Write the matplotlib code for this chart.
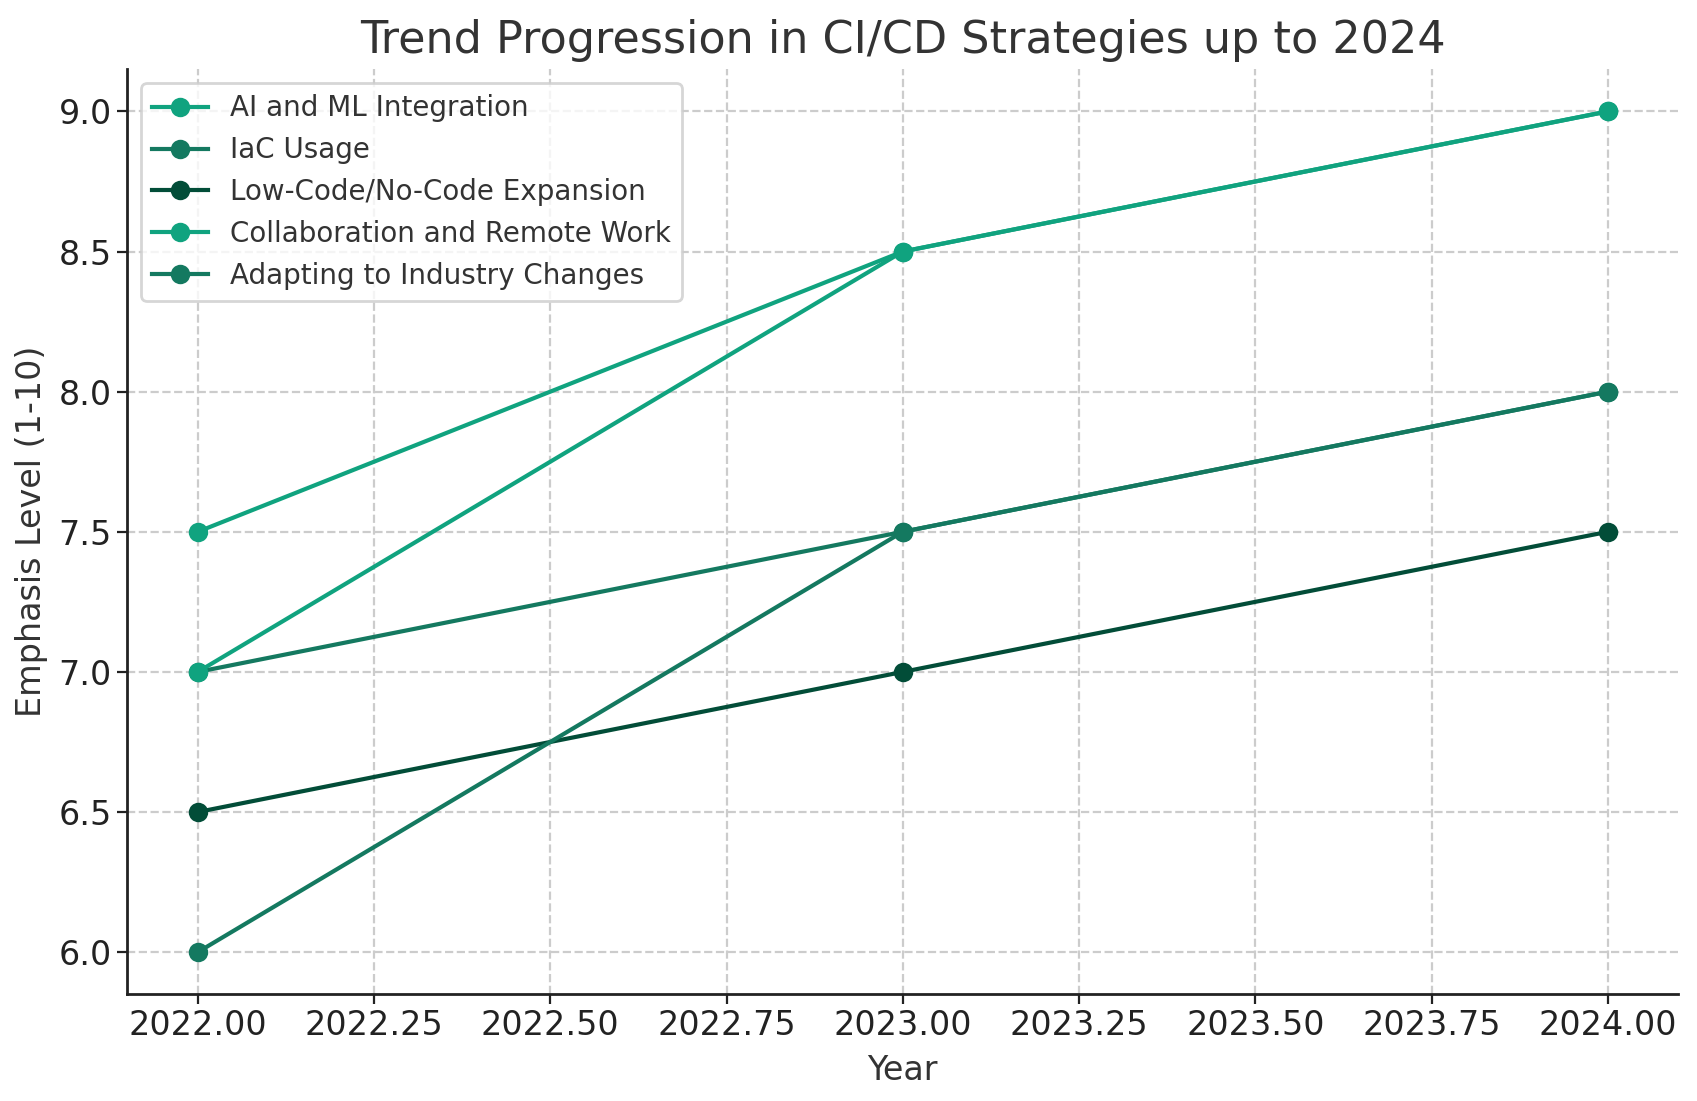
import matplotlib.pyplot as plt

years = [2022, 2023, 2024]
ai_ml = [7.5, 8.5, 9.0]
iac = [7.0, 7.5, 8.0]
low_code = [6.5, 7.0, 7.5]
collab = [7.0, 8.5, 9.0]
adapting = [6.0, 7.5, 8.0]

series = [
    ('AI and ML Integration', ai_ml, '#10a37f'),
    ('IaC Usage', iac, '#147960'),
    ('Low-Code/No-Code Expansion', low_code, '#024d38'),
    ('Collaboration and Remote Work', collab, '#10a37f'),
    ('Adapting to Industry Changes', adapting, '#147960'),
]

plt.rcParams['font.family'] = ['DejaVu Sans']
plt.rcParams['text.color'] = '#333333'
plt.rcParams['axes.labelcolor'] = '#333333'

fig, ax = plt.subplots(figsize=(8.485, 5.505), dpi=200)
fig.subplots_adjust(left=0.075, right=0.989, bottom=0.097, top=0.937)

for label, vals, color in series:
    ax.plot(years, vals, marker='o', color=color, linewidth=1.5, markersize=6, label=label)

ax.set_title('Trend Progression in CI/CD Strategies up to 2024', fontsize=16)
ax.set_xlabel('Year', fontsize=12)
ax.set_ylabel('Emphasis Level (1-10)', fontsize=12)
ax.tick_params(labelsize=12, pad=2, colors='#222222', labelcolor='#222222')
ax.grid(True, linestyle='--', color='#cccccc', linewidth=0.8)
for s in ['left', 'bottom']:
    ax.spines[s].set_linewidth(1.0)
    ax.spines[s].set_color('#222222')
ax.spines['top'].set_visible(False)
ax.spines['right'].set_visible(False)
ax.legend(loc='upper left', fontsize=10)

plt.savefig('out.png', dpi=200)
